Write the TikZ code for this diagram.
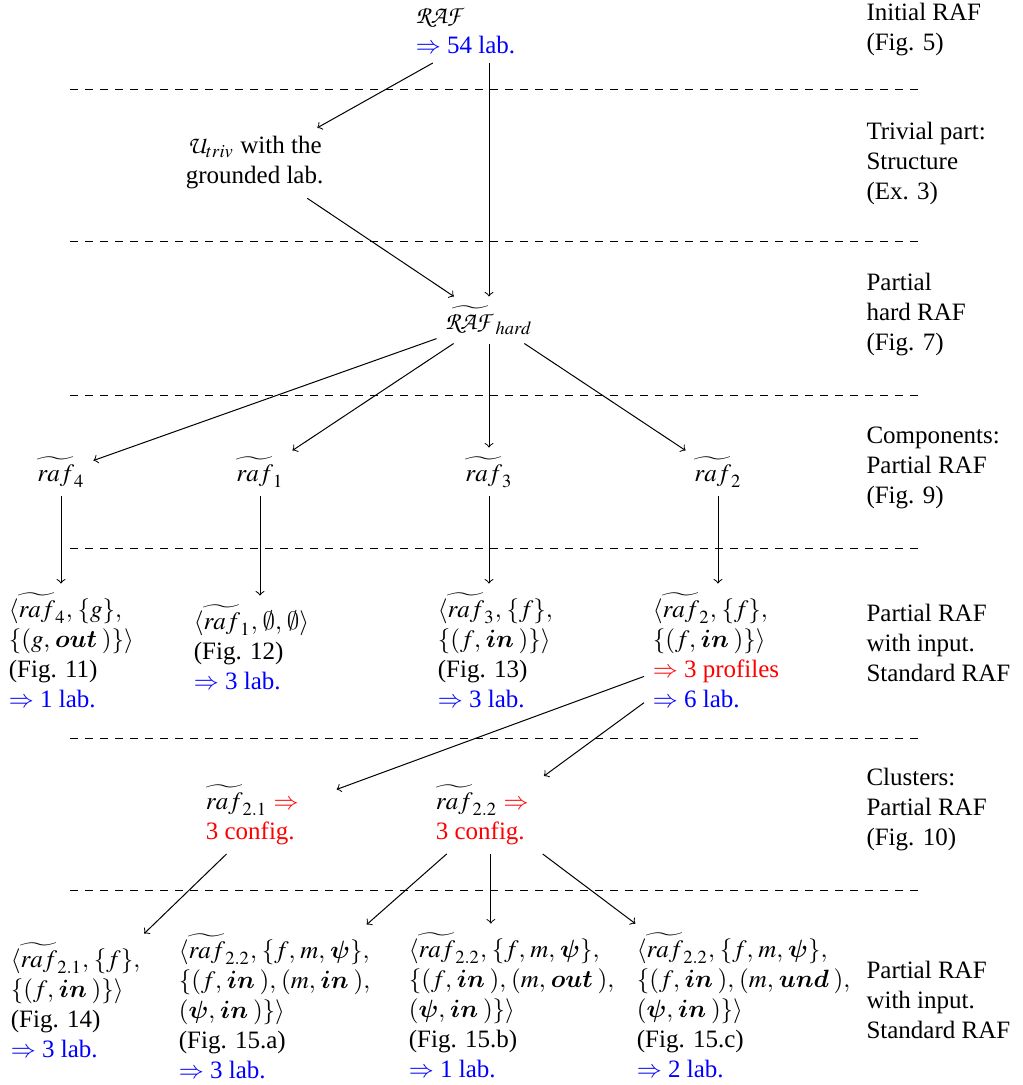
\documentclass[tikz,border=0pt]{standalone}
\usepackage{amsmath}
\usepackage{mathptmx}
\usepackage[no-math]{fontspec}
\setmainfont{Liberation Serif}
\usepackage{xcolor}
\DeclareMathAlphabet{\mathpzc}{OT1}{pzc}{m}{it}
\DeclareMathAlphabet{\mathbi}{OML}{cmm}{b}{it}
\DeclareSymbolFont{cmmbold}{OML}{cmm}{b}{it}
\DeclareMathSymbol{\bpsi}{\mathord}{cmmbold}{"20}
\DeclareSymbolFont{cmsyfont}{OMS}{cmsy}{m}{n}
\DeclareMathSymbol{\cmempty}{\mathord}{cmsyfont}{"3B}
\thinmuskip=3.5mu
\newcommand{\tr}[1]{\widetilde{raf}_{#1}}
\newcommand{\bs}[1]{\mathbi{#1}\,}
\newcommand{\bl}[1]{\textcolor{blue}{$\Rightarrow$ #1}}
\newcommand{\rd}[1]{\textcolor{red}{#1}}
\begin{document}
\begin{tikzpicture}[x=0.4pt,y=-0.4pt,
  box/.style={align=left, inner sep=3.333pt, anchor=west},
  cbox/.style={inner sep=3.333pt},
  arr/.style={->, line width=0.4pt},
  sepline/.style={dashed, line width=0.4pt},
  side/.style={align=left, inner sep=0pt, anchor=west}]
\useasboundingbox (0,0) rectangle (1022,1085);

% separators
\foreach \yy in {90,242,395,548,738,890}
  \draw[sepline] (70,\yy) -- (925,\yy);

% side labels
\node[side] (s1) at (866,30) {Initial RAF\\(Fig. 5)};
\node[side] (s2) at (866,163) {Trivial part:\\Structure\\(Ex. 3)};
\node[side] (s3) at (866,315) {Partial\\hard RAF\\(Fig. 7)};
\node[side] (s4) at (866,468) {Components:\\Partial RAF\\(Fig. 9)};
\node[side] (s5) at (866,643) {Partial RAF\\with input.\\Standard RAF};
\node[side] (s6) at (866,810) {Clusters:\\Partial RAF\\(Fig. 10)};
\node[side] (s7) at (866,1000) {Partial RAF\\with input.\\Standard RAF};

% main nodes
\node[box] (raf) at (407,31) {$\mathpzc{RAF}$\\\makebox[59.2pt][l]{\bl{54 lab.}}};
\node[box,align=center] (utriv) at (177,163) {$\mathpzc{U}_{triv}$ with the\\grounded lab.};
\node[cbox] (hard) at (489,320) {$\widetilde{\mathpzc{RAF}}_{hard}$};

\node[cbox] (r4) at (61,472) {$\tr{4}$};
\node[cbox] (r1) at (260,472) {$\tr{1}$};
\node[cbox] (r3) at (489,472) {$\tr{3}$};
\node[cbox] (r2) at (718,472) {$\tr{2}$};

\node[box] (n4) at (0,650) {$\langle\tr{4},\{g\},$\\$\{(g,\bs{out})\}\rangle$\\(Fig. 11)\\\bl{1 lab.}};
\node[box] (n1) at (185,647) {$\langle\tr{1},\cmempty,\cmempty\rangle$\\(Fig. 12)\\\bl{3 lab.}};
\node[box] (n3) at (429,650) {$\langle\tr{3},\{f\},$\\$\{(f,\bs{in})\}\rangle$\\(Fig. 13)\\\bl{3 lab.}};
\node[box] (n2) at (644,650) {$\langle\tr{2},\{f\},$\\$\{(f,\bs{in})\}\rangle$\\\rd{$\Rightarrow$ 3 profiles}\\\bl{6 lab.}};

\node[box] (r21) at (197,815) {\makebox[48.8pt][l]{$\tr{2.1}$ \rd{$\Rightarrow$}}\\\rd{3 config.}};
\node[box] (r22) at (427,815) {\makebox[44pt][l]{$\tr{2.2}$ \rd{$\Rightarrow$}}\\\rd{3 config.}};

\node[box] (l1) at (2,1000) {$\langle\tr{2.1},\{f\},$\\$\{(f,\bs{in})\}\rangle$\\(Fig. 14)\\\bl{3 lab.}};
\node[box] (l2) at (170,1006) {$\langle\tr{2.2},\{f,m,\bpsi\},$\\$\{(f,\bs{in}),(m,\bs{in}),$\\$(\bpsi,\bs{in})\}\rangle$\\(Fig. 15.a)\\\bl{3 lab.}};
\node[box] (l3) at (400,1005) {$\langle\tr{2.2},\{f,m,\bpsi\},$\\$\{(f,\bs{in}),(m,\bs{out}),$\\$(\bpsi,\bs{in})\}\rangle$\\(Fig. 15.b)\\\bl{1 lab.}};
\node[box] (l4) at (628,1005) {$\langle\tr{2.2},\{f,m,\bpsi\},$\\$\{(f,\bs{in}),(m,\bs{und}),$\\$(\bpsi,\bs{in})\}\rangle$\\(Fig. 15.c)\\\bl{2 lab.}};

% connectors
\draw[arr] (raf) -- (utriv);
\draw[arr] (raf.south -| hard.north) -- (hard.north);
\draw[arr] (utriv) -- (hard);
\draw[arr] (hard) -- (r4);
\draw[arr] (hard) -- (r1);
\draw[arr] (hard) -- (r3);
\draw[arr] (hard) -- (r2);
\draw[arr] (r4) -- (r4 |- n4.north);
\draw[arr] (r1) -- (r1 |- n1.north);
\draw[arr] (r3) -- (r3 |- n3.north);
\draw[arr] (r2) -- (r2 |- n2.north);
\draw[arr] (n2) -- (r21);
\draw[arr] (n2) -- (r22);
\draw[arr] (r21) -- (l1);
\draw[arr] (r22) -- (l2);
\draw[arr] (r22) -- (r22 |- l3.north);
\draw[arr] (r22) -- (l4);
\end{tikzpicture}
\end{document}
